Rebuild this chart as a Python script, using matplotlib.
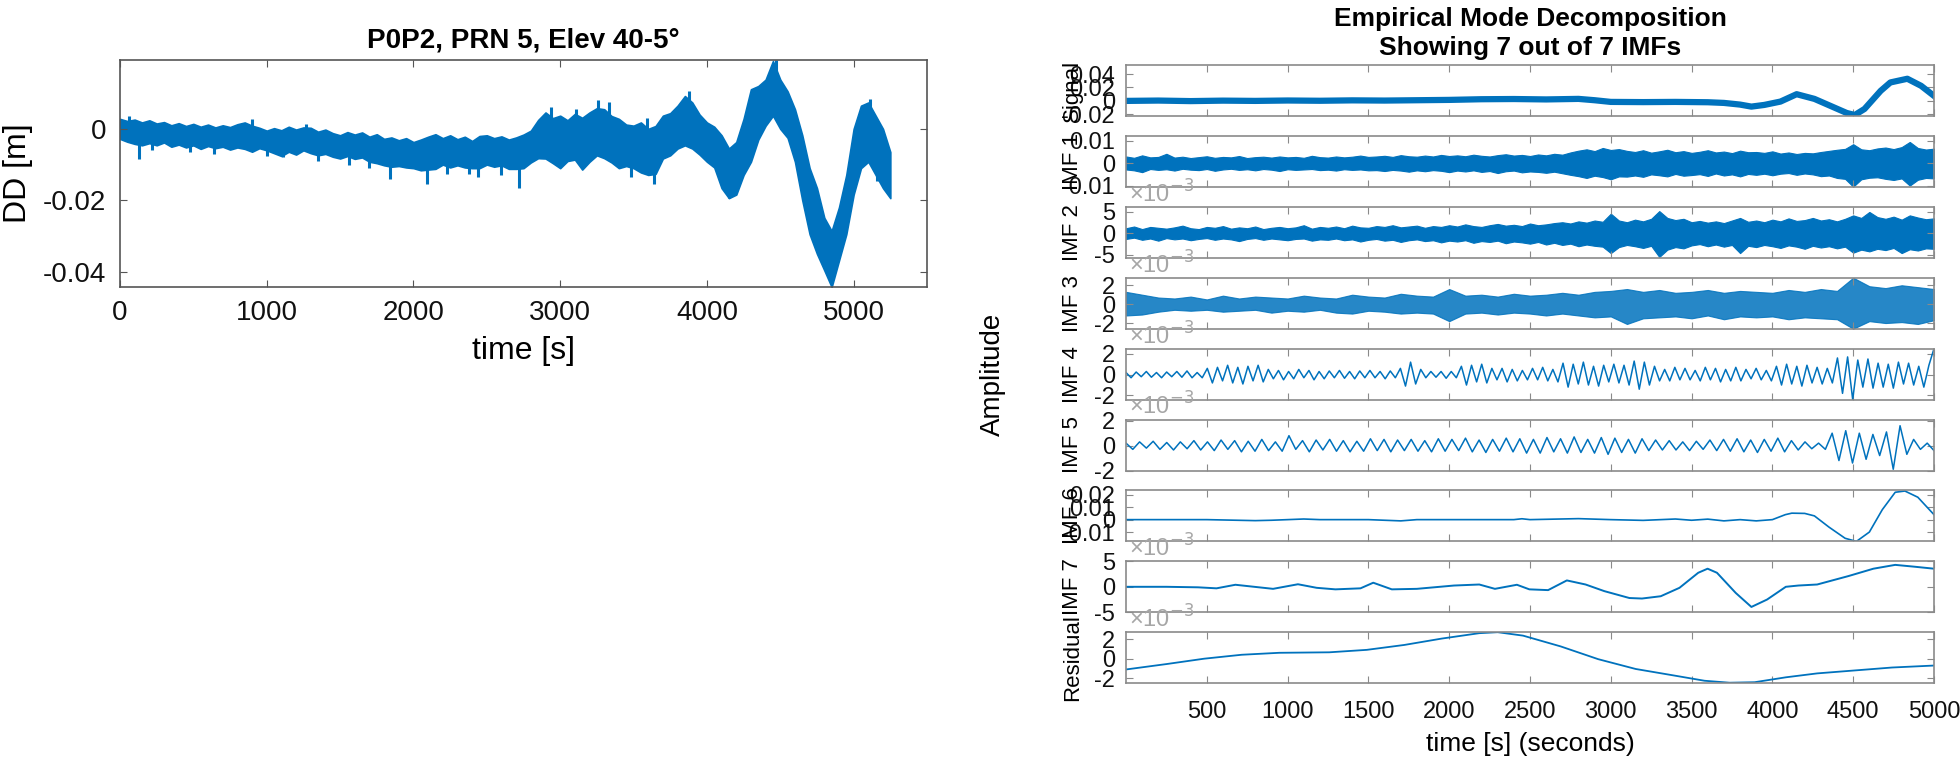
import numpy as np
import matplotlib
matplotlib.use('Agg')
import matplotlib.pyplot as plt

plt.rcParams['font.family'] = ['Liberation Sans', 'DejaVu Sans']
plt.rcParams['axes.unicode_minus'] = False

blue = '#0072BD'

# =============================================================================
# left panel: DD residual, upper / lower edge of the noisy trace [mm], 50 s steps
# =============================================================================
dd_t = list(range(0, 5251, 50))
dd_hi = [2.8, 2.2, 2.6, 1.8, 2.4, 1.5, 1.9, 1.0, 1.6, 0.8,
         1.4, 0.6, 1.2, 0.4, 1.0, 0.5, 1.3, 1.8, 0.9, 0.3,
         -0.5, 0.2, -0.4, 0.6, -0.2, 0.4, 0.3, -0.8, -0.2, -1.2,
         -1.8, -0.9, -1.6, -1.0, -2.2, -1.5, -2.8, -2.4, -3.2, -2.6,
         -3.7, -3.0, -2.2, -1.5, -2.6, -1.8, -2.9, -2.2, -3.4, -2.0,
         -1.8, -2.6, -2.1, -3.0, -2.4, -1.6, -0.5, 2.5, 4.6, 3.0,
         3.7, 2.4, 4.2, 3.1, 4.6, 5.8, 5.5, 3.6, 2.8, 1.2,
         0.9, 1.8, 0.0, 0.8, 3.7, 4.4, 6.5, 9.2, 7.4, 4.0,
         1.8, 0.6, -1.8, -5.5, -3.7, 2.8, 11.1, 12.0, 13.8, 19.0,
         13.8, 10.5, 5.5, -1.8, -11.0, -16.6, -24.9, -28.6, -22.0, -12.9,
         0.0, 6.5, 7.4, 3.7, 0.0, -6.5]
dd_lo = [-2.8, -3.6, -4.2, -4.6, -4.0, -4.6, -3.8, -5.0, -4.4, -5.2,
         -4.6, -5.6, -4.8, -5.4, -5.0, -5.8, -5.2, -5.6, -6.4, -5.4,
         -6.0, -6.8, -7.6, -6.4, -7.2, -6.0, -6.8, -7.4, -7.0, -7.8,
         -8.3, -7.6, -8.4, -8.0, -9.2, -9.6, -10.2, -10.6, -10.4, -10.8,
         -11.0, -11.6, -11.4, -11.2, -10.0, -10.8, -10.2, -10.8, -11.0, -11.0,
         -10.0, -10.6, -10.2, -11.2, -11.2, -11.0, -9.4, -8.2, -8.3, -9.6,
         -11.0, -9.0, -8.6, -11.4, -9.2, -7.4, -8.2, -9.4, -11.0, -10.4,
         -11.0, -12.2, -12.9, -12.6, -8.3, -7.4, -5.5, -4.6, -5.5, -7.2,
         -9.2, -10.8, -16.6, -19.4, -18.4, -12.9, -9.2, -3.0, 0.9, 3.7,
         0.0, -2.5, -9.2, -20.0, -29.5, -35.0, -39.6, -44.3, -36.9, -29.5,
         -18.4, -11.0, -9.2, -12.9, -16.6, -19.4]
# narrow spikes sticking out of the band [mm]
spk_t = [60, 130, 220, 480, 640, 900, 1000, 1110, 1270, 1350, 1560, 1700, 1840,
         2090, 2230, 2380, 2440, 2600, 2720, 2940, 3110, 3260, 3330, 3480, 3590,
         3640, 3880, 4150, 4470, 5110, 5160]
spk_hi = [3.5, -3.0, -3.0, -4.0, -4.0, 2.8, -5.0, -5.0, 1.5, -6.0, -7.0, -8.0, -9.0,
          -10.0, -9.0, -10.0, -10.0, -9.0, -10.0, 6.0, 5.5, 8.0, 7.5, -10.0, 3.0,
          -11.0, 10.5, -17.0, 19.3, 8.5, -11.0]
spk_lo = [-1.0, -8.5, -6.0, -6.5, -7.0, 0.0, -7.5, -8.0, -2.0, -9.0, -10.0, -11.0, -14.0,
          -15.5, -12.5, -12.5, -13.5, -12.8, -16.5, 2.0, 2.0, 3.0, 3.0, -13.5, 0.0,
          -15.5, 6.0, -19.5, 14.0, 4.0, -14.5]

# =============================================================================
# right panel: EMD
# =============================================================================
# signal [mm]
sig_t = [0, 200, 400, 600, 800, 1000, 1200, 1400, 1600, 1800, 2000, 2200, 2400,
         2600, 2800, 2900, 3000, 3200, 3400, 3600, 3700, 3800, 3870, 3950, 4050,
         4150, 4260, 4360, 4460, 4510, 4570, 4670, 4730, 4835, 4920, 5000]
sig_v = [0.0, 0.5, -0.3, 0.4, 0.0, 0.6, 0.2, 0.8, 0.5, 1.0, 1.5, 2.5, 2.8,
         2.2, 3.0, 1.0, -1.5, -1.8, -1.5, -2.0, -3.0, -5.5, -8.5, -6.0, -1.0,
         10.0, 3.0, -7.5, -18.0, -21.0, -12.0, 15.0, 27.5, 33.0, 22.5, 7.5]

# IMF 1 [mm] and IMF 2 [1e-3]: upper / lower envelope, 50 s steps
band50_t = list(range(0, 5001, 50))
imf1_hi = [3.0, 2.4, 3.5, 2.6, 2.8, 4.2, 2.5, 2.9, 2.3, 2.7,
           3.1, 2.4, 2.8, 2.6, 3.2, 2.3, 2.7, 2.9, 2.5, 3.0,
           2.6, 2.8, 2.4, 3.3, 2.7, 2.5, 3.0, 2.6, 2.9, 3.4,
           2.8,
           3.0, 3.3, 2.8, 3.6, 3.1, 2.9, 3.4, 3.0, 3.7, 3.2,
           3.5, 3.1, 3.8, 3.3, 3.0, 3.6, 4.0, 3.4, 3.7, 3.2,
           3.9, 3.5, 4.2, 3.8,
           4.8, 5.6, 6.2, 5.4, 6.8, 5.9, 6.3, 5.5,
           5.0, 5.8, 4.7, 5.3, 6.0, 4.9, 5.4, 4.6, 5.1, 5.8,
           4.8, 5.2, 4.5, 5.6, 4.9, 5.0, 4.6, 5.3,
           4.3, 4.8, 4.1, 4.6, 4.4, 5.0, 5.5,
           6.0, 6.4, 8.5, 6.2, 5.8, 6.6, 7.0, 6.3, 7.2, 9.5, 6.8, 6.1, 6.5]
imf1_lo = [-2.8, -3.2, -4.0, -2.6, -3.0, -2.7, -3.3, -2.5, -2.9, -3.1,
           -2.6, -3.4, -2.8, -2.5, -3.0, -2.7, -3.2, -2.6, -2.9, -3.5,
           -2.7, -3.0, -2.8, -2.6, -3.1, -2.9, -3.3, -2.7, -3.0, -2.8,
           -3.2,
           -3.1, -3.5, -3.0, -3.3, -3.8, -3.2, -3.6, -3.1, -3.4, -4.0,
           -3.3, -3.7, -3.2, -3.9, -3.5, -4.4, -3.6, -3.3, -4.1, -3.7,
           -3.9, -4.3, -3.8, -4.5,
           -5.2, -5.8, -6.6, -5.6, -6.2, -7.2, -5.9, -6.0,
           -5.5, -6.1, -5.0, -5.4, -5.9, -4.8, -5.6, -5.3, -4.9, -5.7,
           -4.6, -5.5, -5.0, -5.9, -4.8, -5.2, -4.7, -5.4,
           -4.7, -4.4, -5.2, -4.6, -5.0, -5.8, -5.5,
           -6.6, -7.0, -10.5, -7.2, -6.5, -6.3, -7.0, -7.5, -6.8, -10.0, -7.4, -6.6, -6.8]
imf2_hi = [1.2, 1.6, 1.0, 1.5, 1.3, 1.1, 1.4, 1.8, 1.2, 1.0,
           1.5, 1.3, 1.7, 1.1, 1.4, 1.2, 1.6, 1.0, 1.3, 1.5,
           1.2, 1.4, 1.9, 1.1, 1.5, 1.3, 1.6, 1.2, 1.8, 1.4,
           1.3, 1.7, 1.5, 1.9, 1.4, 1.6, 1.8, 1.3, 1.7, 1.5,
           1.9, 1.6, 2.1, 1.7, 1.5, 1.9, 2.2, 1.8, 2.0, 1.7,
           2.3, 1.9, 2.1, 2.4,
           2.6, 2.3, 2.8, 2.5, 3.0, 2.7,
           4.6,
           3.0, 2.6, 3.2, 2.8, 3.4,
           5.2,
           3.6, 3.1, 3.4,
           2.6, 2.9, 2.5, 2.8, 2.4, 3.0,
           3.6,
           2.7, 3.0, 2.6, 3.2, 2.8, 3.5, 2.9, 3.1, 3.6, 3.0, 3.3, 2.8, 3.4,
           4.2, 3.6, 5.0, 3.8,
           3.4, 3.9, 3.2, 4.2, 3.7, 3.3, 3.5]
imf2_lo = [-1.3, -1.0, -1.5, -1.2, -1.7, -1.1, -1.4, -1.2, -1.6, -1.3,
           -1.1, -1.5, -1.2, -1.4, -1.8, -1.3, -1.1, -1.5, -1.2, -1.4,
           -1.6, -1.3, -1.2, -1.7, -1.4, -1.5, -1.2, -1.6, -1.4, -1.9,
           -1.5, -1.3, -1.7, -1.5, -2.0, -1.6, -1.4, -1.8, -1.6, -2.1,
           -1.7, -1.9, -1.6, -2.2, -1.8, -2.0, -1.7, -2.3, -1.9, -2.1,
           -2.4, -2.0, -2.6, -2.2,
           -2.7, -2.4, -3.0, -2.6, -2.9, -3.1,
           -4.6,
           -3.2, -2.7, -3.0, -3.4, -2.9,
           -5.5,
           -3.8, -3.2, -3.5,
           -2.8, -2.5, -3.0, -2.6, -3.1, -2.7,
           -4.6,
           -2.9, -3.2, -2.7, -3.0, -3.4, -2.8, -3.1, -3.6, -2.9, -3.3, -3.0, -3.5, -3.1,
           -4.5, -3.8, -4.2, -3.6,
           -3.9, -3.4, -4.6, -3.7, -4.0, -3.5, -3.6]

# IMF 3 [1e-3]: upper / lower envelope, 100 s steps
band100_t = list(range(0, 5001, 100))
imf3_hi = [1.3, 1.0, 0.7, 0.6, 0.8, 0.5, 0.9, 0.6, 0.8, 0.7,
           0.6, 0.9, 0.7, 0.6, 1.0, 0.8, 0.7, 1.1, 0.9, 0.8,
           1.6, 0.9, 1.0, 0.8, 1.1, 0.9, 1.0, 1.2, 1.0, 1.3,
           1.4, 1.6, 1.3, 1.5, 1.2, 1.3, 1.5, 1.2, 1.4, 1.3,
           1.2, 1.5, 1.3, 1.6, 1.4, 2.8, 1.9, 1.7, 2.0, 1.8, 1.6]
imf3_lo = [-1.2, -1.1, -0.8, -0.6, -0.7, -0.6, -0.8, -0.7, -0.6, -0.9,
           -0.7, -0.8, -0.6, -0.9, -1.0, -0.7, -0.8, -1.0, -0.9, -1.0,
           -1.8, -1.0, -0.9, -1.1, -0.9, -1.0, -1.2, -1.0, -1.2, -1.4,
           -1.3, -2.1, -1.5, -1.4, -1.3, -1.5, -1.2, -1.6, -1.3, -1.4,
           -1.3, -1.6, -1.4, -1.5, -1.6, -2.6, -1.8, -2.0, -1.9, -2.1, -1.7]

# oscillating IMFs: successive extrema [1e-3], evenly spread over 0..5000 s
imf4_ext = [0.2, -0.3, 0.25, -0.2, 0.3, -0.25, 0.2, -0.3, 0.25, -0.2,
            0.3, -0.25, 0.35, -0.3, 0.2, -0.3, 0.6, -0.8, 0.7, -0.6,
            0.9, -0.8, 0.7, -0.9, 0.8, -0.6, 0.9, -0.7, 0.5, -0.4,
            0.4, -0.5, 0.3, -0.4, 0.5, -0.3, 0.4, -0.5, 0.3, -0.4,
            0.35, -0.3, 0.4, -0.35, 0.3, -0.4, 0.35, -0.3, 0.4, -0.3,
            0.3, -0.4, 0.35, -0.3, 0.6, -1.1, 1.2, -0.9, 0.5, -0.3,
            0.3, -0.25, 0.3, -0.35, 0.3, -0.3, 0.8, -1.0, 0.9, -0.7,
            1.0, -0.8, 0.6, -0.5, 0.6, -0.7, 0.5, -0.6, 0.4, -0.5,
            0.6, -0.5, 0.7, -0.6, 0.5, -0.7, 1.1, -1.2, 1.0, -0.9,
            1.2, -1.0, 0.8, -1.1, 0.9, -0.7, 1.0, -0.8, 0.9, -1.0,
            1.3, -1.4, 1.2, -1.0, 0.8, -0.6, 0.5, -0.6, 0.7, -0.5,
            0.6, -0.5, 0.4, -0.6, 0.7, -0.5, 0.6, -0.7, 0.5, -0.6,
            0.7, -0.6, 0.5, -0.4, 0.6, -0.5, 0.4, -0.6, 0.8, -1.0,
            1.0, -0.9, 0.8, -1.1, 0.9, -0.8, 0.7, -0.9, 0.6, -0.8,
            1.6, -1.8, 1.7, -2.4, 1.4, -1.2, 1.5, -1.3, 1.1, -1.2,
            1.0, -1.3, 1.2, -0.9, 1.1, -1.0, 0.8, -1.2, 0.9, 2.5]
imf5_ext = [0.2, -0.3, 0.3, -0.2, 0.35, -0.3, 0.25, -0.35, 0.3, -0.25,
            0.4, -0.35, 0.3, -0.4, 0.45, -0.3, 0.4, -0.5, 0.35, -0.45,
            0.5, -0.4, 0.3, -0.45, 0.8, -0.3, 0.4, -0.5, 0.45, -0.35,
            0.5, -0.45, 0.4, -0.5, 0.35, -0.45, 0.55, -0.4, 0.5, -0.5,
            0.45, -0.4, 0.5, -0.45, 0.4, -0.5, 0.55, -0.45, 0.5, -0.4,
            0.6, -0.5, 0.45, -0.55, 0.5, -0.45, 0.6, -0.5, 0.55, -0.6,
            0.5, -0.6, 0.65, -0.5, 0.55, -0.6, 0.7, -0.55, 0.5, -0.6,
            0.65, -0.7, 0.6, -0.55, 0.5, -0.6, 0.55, -0.4, 0.45, -0.35,
            0.4, -0.35, 0.3, -0.4, 0.35, -0.3, 0.45, -0.4, 0.5, -0.45,
            0.55, -0.5, 0.45, -0.55, 0.5, -0.45, 0.6, -0.5, 0.4, -0.35,
            0.3, -0.25, 0.2, -0.3, 1.0, -1.2, 1.2, -1.4, 1.0, -1.1,
            0.9, -0.8, 1.1, -1.9, 1.6, -0.7, 0.5, -0.3, 0.2, -0.4]

# smooth IMFs
imf6_t = [0, 500, 800, 900, 1000, 1100, 1200, 1500, 1700, 1800, 2400, 2450, 2500,
          2800, 3000, 3200, 3400, 3500, 3600, 3700, 3800, 3900, 4000, 4080, 4120,
          4200, 4260, 4350, 4450, 4520, 4600, 4680, 4760, 4820, 4900, 5000]
imf6_v = [0.0, 0.0, -0.8, -0.5, 0.0, 0.5, 0.0, 0.0, -1.0, 0.0, 0.0, 0.7, 0.0,
          0.8, 0.0, -0.6, 0.5, -0.5, 0.4, -1.0, 0.0, -1.0, 0.0, 4.0, 5.2,
          5.0, 3.0, -6.0, -15.0, -17.5, -10.0, 8.0, 22.0, 23.0, 18.0, 4.0]
imf7_t = [0, 250, 445, 560, 677, 793, 910, 1064, 1180, 1296, 1451, 1530, 1645,
          1800, 2030, 2186, 2283, 2419, 2496, 2612, 2728, 2844, 2960, 3115, 3193,
          3309, 3425, 3541, 3599, 3657, 3773, 3870, 3967, 4083, 4161, 4277, 4470,
          4625, 4760, 4876, 5000]
imf7_v = [0.0, 0.0, -0.1, -0.3, 0.4, 0.0, -0.4, 0.5, -0.2, -0.5, -0.3, 0.8, -0.5,
          -0.4, 0.25, 0.45, -0.4, 0.4, -0.5, -0.65, 1.25, 0.45, -0.85, -2.2, -2.3,
          -1.85, -0.2, 2.75, 3.55, 2.75, -1.2, -3.95, -2.5, 0.0, 0.25, 0.45, 2.1,
          3.55, 4.3, 3.95, 3.55]
res_t = [0, 250, 484, 716, 948, 1258, 1490, 1722, 1954, 2186, 2300, 2457, 2690,
         2922, 3154, 3386, 3580, 3735, 3890, 4083, 4277, 4509, 4741, 5000]
res_v = [-1.1, -0.55, 0.0, 0.4, 0.6, 0.65, 0.9, 1.4, 2.05, 2.6, 2.7, 2.35, 1.25,
         -0.05, -1.05, -1.7, -2.25, -2.45, -2.4, -1.9, -1.5, -1.2, -0.9, -0.7]

row_labels = ['Signal', 'IMF 1', 'IMF 2', 'IMF 3', 'IMF 4', 'IMF 5', 'IMF 6', 'IMF 7', 'Residual']
row_yticks = [[-0.02, 0, 0.02, 0.04], [-0.01, 0, 0.01], [-5, 0, 5], [-2, 0, 2], [-2, 0, 2],
              [-2, 0, 2], [-0.01, 0, 0.01, 0.02], [-5, 0, 5], [-2, 0, 2]]
row_ylim = [(-0.0225, 0.0535), (-0.0106, 0.0122), (-5.7, 6.2), (-2.6, 2.8), (-2.4, 2.5),
            (-2.0, 2.1), (-0.0175, 0.0235), (-5.0, 5.0), (-2.5, 2.7)]
row_exp = [False, False, True, True, True, True, False, True, True]
right_xticks = list(range(500, 5001, 500))


fig = plt.figure(figsize=(19.6, 7.6), dpi=100)
W, H = 1960.0, 760.0

# ----------------------------------------------------------------- left
ax = fig.add_axes([120 / W, 1 - 287 / H, 807 / W, 227 / H])
ax.fill_between(dd_t, np.array(dd_hi) / 1000, np.array(dd_lo) / 1000,
                facecolor=blue, edgecolor=blue, lw=1.2)
ax.vlines(spk_t, np.array(spk_lo) / 1000, np.array(spk_hi) / 1000, color=blue, lw=2.2)
ax.set_xlim(0, 5500)
ax.set_ylim(-0.0443, 0.0193)
ax.set_xticks([0, 1000, 2000, 3000, 4000, 5000])
ax.set_yticks([-0.04, -0.02, 0])
ax.set_yticklabels(['-0.04', '-0.02', '0'])
for s in ax.spines.values():
    s.set_color('#555555')
    s.set_linewidth(1.2)
ax.tick_params(direction='in', length=5, width=0.8, color='#555555',
               top=True, right=True, labelsize=20, labelcolor='#111111')
ax.tick_params(axis='x', pad=9)
ax.tick_params(axis='y', pad=10)
ax.set_title('P0P2, PRN 5, Elev 40-5°', fontsize=20, fontweight='bold', pad=9)
ax.set_xlabel('time [s]', fontsize=23)
ax.xaxis.set_label_coords(0.5, -0.28)
ax.xaxis.label.set_va('center')
ax.set_ylabel('DD [m]', fontsize=23)
ax.yaxis.set_label_coords(-0.126, 0.5)
ax.yaxis.label.set_va('center')

# ----------------------------------------------------------------- right
imf4_t = np.linspace(0, 5000, len(imf4_ext))
imf5_t = np.linspace(0, 5000, len(imf5_ext))

axes = []
for i in range(9):
    top = 65 + 70.9 * i
    a = fig.add_axes([1126 / W, 1 - (top + 51) / H, 808 / W, 51 / H])
    axes.append(a)

axes[0].plot(sig_t, np.array(sig_v) / 1000, color=blue, lw=4.5)
axes[1].fill_between(band50_t, np.array(imf1_hi) / 1000, np.array(imf1_lo) / 1000,
                     facecolor=blue, edgecolor=blue, lw=0.8)
axes[2].fill_between(band50_t, imf2_hi, imf2_lo, facecolor=blue, edgecolor=blue, lw=0.8)
axes[3].fill_between(band100_t, imf3_hi, imf3_lo, facecolor=blue, edgecolor=blue,
                     lw=0.8, alpha=0.85)
axes[4].plot(imf4_t, imf4_ext, color=blue, lw=1.1)
axes[5].plot(imf5_t, imf5_ext, color=blue, lw=1.1)
axes[6].plot(imf6_t, np.array(imf6_v) / 1000, color=blue, lw=1.2)
axes[7].plot(imf7_t, imf7_v, color=blue, lw=1.4)
axes[8].plot(res_t, res_v, color=blue, lw=1.3)

for i, a in enumerate(axes):
    a.set_xlim(0, 5000)
    a.set_ylim(*row_ylim[i])
    a.set_xticks(right_xticks)
    a.set_yticks(row_yticks[i])
    a.set_yticklabels(['%g' % v for v in row_yticks[i]])
    for s in a.spines.values():
        s.set_color('#8a8a8a')
        s.set_linewidth(1.2)
    a.tick_params(direction='in', length=5, width=0.8, color='#8a8a8a',
                  top=True, right=True, labelcolor='#111111')
    a.tick_params(axis='y', labelsize=17, pad=8)
    a.tick_params(axis='x', labelsize=17, pad=13, labelbottom=(i == 8))
    a.set_ylabel(row_labels[i], fontsize=16)
    a.yaxis.set_label_coords(-0.066, 0.5)
    a.yaxis.label.set_va('center')
    if row_exp[i]:
        a.text(0.004, 0.99, '×10$^{-3}$', transform=a.transAxes, fontsize=17,
               color='#a6a6a6', ha='left', va='bottom')

axes[0].set_title('Empirical Mode Decomposition\nShowing 7 out of 7 IMFs',
                  fontsize=19, fontweight='bold', pad=7, linespacing=1.3)
fig.text(993 / W, 0.507, 'Amplitude', rotation=90, ha='center', va='center', fontsize=20)
fig.text(1530 / W, 1 - 744 / H, 'time [s] (seconds)', ha='center', va='center', fontsize=19)

fig.savefig('out.png', dpi=100)
